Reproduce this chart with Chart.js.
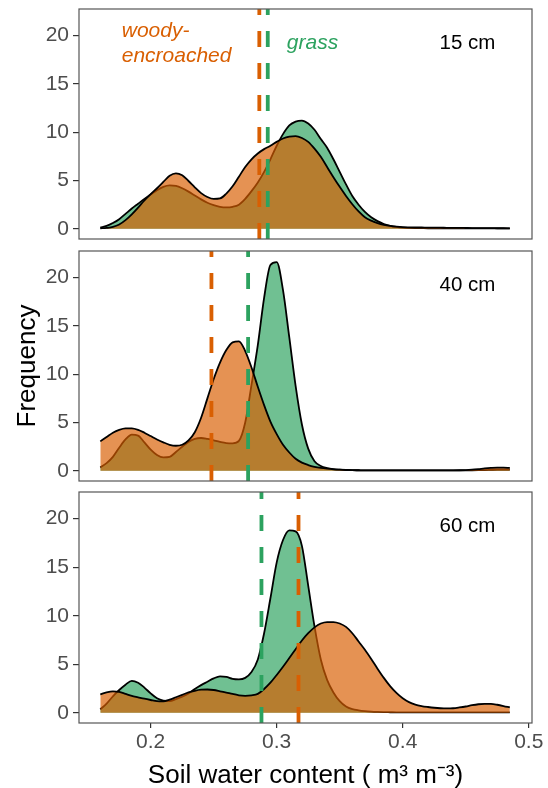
<!DOCTYPE html>
<html>
<head>
<meta charset="utf-8">
<script src="https://cdn.jsdelivr.net/npm/chart.js@4.4.0/dist/chart.umd.min.js"></script>
<style>
  body { margin: 0; background: #fff; }
  #wrap { position: relative; width: 548px; height: 788px; }
  canvas { position: absolute; left: 0; }
</style>
</head>
<body>
<div id="wrap">
  <canvas id="d15" width="548" height="245" style="top:0px"></canvas>
  <canvas id="d40" width="548" height="242" style="top:245px"></canvas>
  <canvas id="d60" width="548" height="301" style="top:487px"></canvas>
</div>
<script>
'use strict';

// soil water content grid (m3 m-3)
const soilWater = [
  0.160, 0.165, 0.170, 0.175, 0.180, 0.185, 0.190, 0.195, 0.200, 0.205,
  0.210, 0.215, 0.220, 0.225, 0.230, 0.235, 0.240, 0.245, 0.250, 0.255,
  0.260, 0.265, 0.270, 0.275, 0.280, 0.285, 0.290, 0.295, 0.300, 0.305,
  0.310, 0.315, 0.320, 0.325, 0.330, 0.335, 0.340, 0.345, 0.350, 0.355,
  0.360, 0.365, 0.370, 0.375, 0.380, 0.385, 0.390, 0.395, 0.400, 0.405,
  0.410, 0.415, 0.420, 0.425, 0.430, 0.435, 0.440, 0.445, 0.450, 0.455,
  0.460, 0.465, 0.470, 0.475, 0.480, 0.485
];

const depths = ['15 cm', '40 cm', '60 cm'];

// density (frequency) per depth
const grass15 = [
  0.12, 0.3, 0.6, 1.0, 1.55, 2.1, 2.6, 3.1, 3.55, 4.0,
  4.35, 4.5, 4.45, 4.2, 3.85, 3.45, 3.05, 2.7, 2.45, 2.28,
  2.22, 2.28, 2.5, 3.1, 3.9, 4.8, 5.9, 7.2, 8.6, 9.8,
  10.7, 11.1, 11.2, 10.9, 10.25, 9.3, 8.4, 7.2, 5.9, 4.6,
  3.4, 2.5, 1.75, 1.2, 0.8, 0.5, 0.32, 0.2, 0.13, 0.1,
  0.08, 0.07, 0.06, 0.06, 0.05, 0.05, 0.05, 0.05, 0.05, 0.05,
  0.05, 0.05, 0.05, 0.05, 0.05, 0.05
];
const woody15 = [
  0.05, 0.1, 0.2, 0.45, 0.9, 1.5, 2.2, 2.95, 3.6, 4.2,
  4.85, 5.5, 5.75, 5.55, 4.95, 4.3, 3.7, 3.3, 3.1, 3.15,
  3.65, 4.4, 5.4, 6.4, 7.2, 7.8, 8.25, 8.6, 9.0, 9.35,
  9.55, 9.6, 9.4, 9.0, 8.3, 7.45, 6.4, 5.35, 4.35, 3.4,
  2.55, 1.8, 1.2, 0.85, 0.6, 0.42, 0.3, 0.22, 0.17, 0.15,
  0.14, 0.14, 0.13, 0.13, 0.12, 0.11, 0.1, 0.1, 0.09, 0.08,
  0.08, 0.07, 0.07, 0.06, 0.06, 0.05
];
const grass40 = [
  0.35, 0.8, 1.45, 2.4, 3.25, 3.75, 3.65, 2.95, 2.2, 1.65,
  1.4, 1.45, 1.95, 2.5, 3.0, 3.3, 3.4, 3.3, 3.15, 3.0,
  2.88, 2.85, 3.1, 5.0, 8.9, 13.0, 17.9, 21.3, 21.6, 18.7,
  13.8, 8.8, 4.8, 2.3, 1.0, 0.5, 0.28, 0.17, 0.12, 0.09,
  0.07, 0.06, 0.05, 0.05, 0.05, 0.05, 0.05, 0.05, 0.05, 0.05,
  0.05, 0.05, 0.05, 0.05, 0.05, 0.05, 0.05, 0.05, 0.05, 0.06,
  0.07, 0.08, 0.1, 0.12, 0.13, 0.13
];
const woody40 = [
  3.05, 3.5, 3.95, 4.25, 4.4, 4.4, 4.25, 3.95, 3.6, 3.25,
  2.95, 2.7, 2.6, 2.7, 3.15, 4.0, 5.5, 7.5, 9.5, 11.2,
  12.5, 13.3, 13.4, 12.4, 10.7, 8.7, 6.8, 5.1, 3.8, 2.7,
  1.9, 1.25, 0.85, 0.6, 0.42, 0.3, 0.22, 0.16, 0.12, 0.09,
  0.07, 0.06, 0.05, 0.05, 0.05, 0.05, 0.05, 0.05, 0.05, 0.05,
  0.05, 0.05, 0.05, 0.05, 0.05, 0.05, 0.05, 0.06, 0.08, 0.12,
  0.18, 0.25, 0.3, 0.33, 0.33, 0.3
];
const grass60 = [
  0.35, 0.95, 1.7, 2.35, 2.9, 3.3, 3.1, 2.6, 2.0, 1.5,
  1.25, 1.2, 1.4, 1.65, 2.0, 2.45, 2.85, 3.2, 3.55, 3.75,
  3.7, 3.5, 3.45, 3.6, 4.2, 5.5, 8.2, 11.8, 15.5, 17.8,
  18.8, 18.7, 17.2, 13.1, 8.9, 5.5, 3.4, 2.1, 1.2, 0.65,
  0.38, 0.25, 0.17, 0.12, 0.09, 0.07, 0.06, 0.05, 0.05, 0.05,
  0.05, 0.05, 0.05, 0.05, 0.05, 0.05, 0.05, 0.05, 0.05, 0.05,
  0.05, 0.05, 0.05, 0.05, 0.05, 0.05
];
const woody60 = [
  1.9, 2.1, 2.2, 2.15, 1.95, 1.75, 1.6, 1.45, 1.32, 1.2,
  1.18, 1.35, 1.6, 1.85, 2.1, 2.27, 2.38, 2.4, 2.35, 2.22,
  2.08, 1.95, 1.8, 1.75, 1.8, 1.95, 2.45, 3.1, 3.9, 4.75,
  5.65, 6.55, 7.45, 8.2, 8.8, 9.2, 9.35, 9.35, 9.2, 8.85,
  8.2, 7.35, 6.5, 5.55, 4.55, 3.6, 2.75, 2.05, 1.5, 1.1,
  0.85, 0.7, 0.6, 0.52, 0.47, 0.45, 0.47, 0.55, 0.65, 0.78,
  0.88, 0.93, 0.92, 0.83, 0.7, 0.55
];

// mean soil water content per depth (dashed lines)
const grassMeans = [0.2929, 0.2773, 0.2879];
const woodyMeans = [0.2862, 0.2482, 0.3173];

const xTicks = [0.2, 0.3, 0.4, 0.5];
const xTickLabels = ['0.2', '0.3', '0.4', '0.5'];
const yTicks = [0, 5, 10, 15, 20];

const xMin = 0.1431, xMax = 0.5026;
const yMin = -1.05, yMax = 22.75;

const FONT = "'Liberation Sans', Arial, Helvetica, sans-serif";
const GREEN = '#2CA25F';
const ORANGE = '#D95F02';
const GREEN_FILL = 'rgba(44, 162, 95, 0.68)';
const ORANGE_FILL = 'rgba(217, 95, 2, 0.68)';
const AXIS_GREY = '#4D4D4D';

Chart.defaults.font.family = FONT;
Chart.defaults.animation = false;

function toPoints(values) {
  return soilWater.map((x, i) => ({x: x, y: values[i]}));
}

function meanLine(x, color) {
  return {
    data: [{x: x, y: yMin}, {x: x, y: yMax}],
    borderColor: color,
    borderWidth: 3.8,
    borderDash: [16, 16],
    borderCapStyle: 'butt',
    pointRadius: 0,
    fill: false,
    tension: 0,
    order: 1
  };
}

function density(values, fillColor, order) {
  return {
    data: toPoints(values),
    borderColor: '#000',
    borderWidth: 1.8,
    backgroundColor: fillColor,
    fill: 'origin',
    pointRadius: 0,
    cubicInterpolationMode: 'monotone',
    order: order
  };
}

function notesPlugin(items) {
  return {
    id: 'notes',
    afterDatasetsDraw(chart) {
      const {ctx, scales: {x, y}} = chart;
      ctx.save();
      items.forEach(n => {
        ctx.font = (n.italic ? 'italic ' : '') + n.size + 'px ' + FONT;
        ctx.fillStyle = n.color;
        ctx.textAlign = n.align;
        ctx.textBaseline = 'alphabetic';
        ctx.fillText(n.text, x.getPixelForValue(n.x), y.getPixelForValue(n.y));
      });
      ctx.restore();
    }
  };
}

const panelFrame = {
  id: 'panelFrame',
  afterDraw(chart) {
    const {ctx, chartArea: a} = chart;
    ctx.save();
    ctx.strokeStyle = '#555';
    ctx.lineWidth = 1.2;
    ctx.strokeRect(a.left, a.top, a.right - a.left, a.bottom - a.top);
    ctx.restore();
  }
};

function makePanel(canvasId, idx, grass, woody, opts) {
  const notes = [
    {text: depths[idx], x: 0.4514, y: 18.6, size: 20.5, color: '#000', align: 'center'}
  ].concat(opts.notes || []);

  const yScale = {
    min: yMin,
    max: yMax,
    afterBuildTicks: s => { s.ticks = yTicks.map(v => ({value: v})); },
    ticks: {color: AXIS_GREY, font: {size: 21}, padding: 4},
    grid: {drawOnChartArea: false, tickLength: 6, color: '#333', lineWidth: 1.2},
    border: {display: false},
    title: {
      display: !!opts.yTitle,
      text: opts.yTitle || '',
      color: '#000',
      font: {size: 26, lineHeight: 1},
      padding: {top: 15, bottom: 0}
    },
    afterFit: s => { s.width = 79; s.paddingTop = 0; s.paddingBottom = 0; }
  };

  const xScale = {
    type: 'linear',
    min: xMin,
    max: xMax,
    display: !!opts.xAxis
  };
  if (opts.xAxis) {
    Object.assign(xScale, {
      afterBuildTicks: s => { s.ticks = xTicks.map(v => ({value: v})); },
      ticks: {
        color: AXIS_GREY,
        font: {size: 21},
        padding: 2,
        maxRotation: 0,
        autoSkip: false,
        callback: (v, i) => xTickLabels[i]
      },
      grid: {drawOnChartArea: false, tickLength: 5, color: '#333', lineWidth: 1.2},
      border: {display: false},
      title: {
        display: true,
        text: 'Soil water content ( m\u00B3 m\u207B\u00B3)',
        color: '#000',
        font: {size: 26, lineHeight: 1},
        padding: {top: 0, bottom: -1}
      },
      afterFit: s => { s.height = 65; s.paddingLeft = 0; s.paddingRight = 0; }
    });
  }

  return new Chart(document.getElementById(canvasId), {
    type: 'line',
    data: {
      datasets: [
        meanLine(grassMeans[idx], GREEN),
        meanLine(woodyMeans[idx], ORANGE),
        density(woody, ORANGE_FILL, 2),
        density(grass, GREEN_FILL, 3)
      ]
    },
    options: {
      responsive: false,
      animation: false,
      layout: {padding: opts.padding},
      plugins: {legend: {display: false}, tooltip: {enabled: false}},
      scales: {x: xScale, y: yScale}
    },
    plugins: [notesPlugin(notes), panelFrame]
  });
}

makePanel('d15', 0, grass15, woody15, {
  padding: {top: 9, bottom: 6, left: 0, right: 16},
  notes: [
    {text: 'woody-', x: 0.177, y: 19.89, size: 21, color: ORANGE, align: 'left', italic: true},
    {text: 'encroached', x: 0.177, y: 17.30, size: 21, color: ORANGE, align: 'left', italic: true},
    {text: 'grass', x: 0.308, y: 18.56, size: 21, color: GREEN, align: 'left', italic: true}
  ]
});

makePanel('d40', 1, grass40, woody40, {
  padding: {top: 6, bottom: 6, left: 0, right: 16},
  yTitle: 'Frequency'
});

makePanel('d60', 2, grass60, woody60, {
  padding: {top: 5, bottom: 0, left: 0, right: 16},
  xAxis: true
});
</script>
</body>
</html>
